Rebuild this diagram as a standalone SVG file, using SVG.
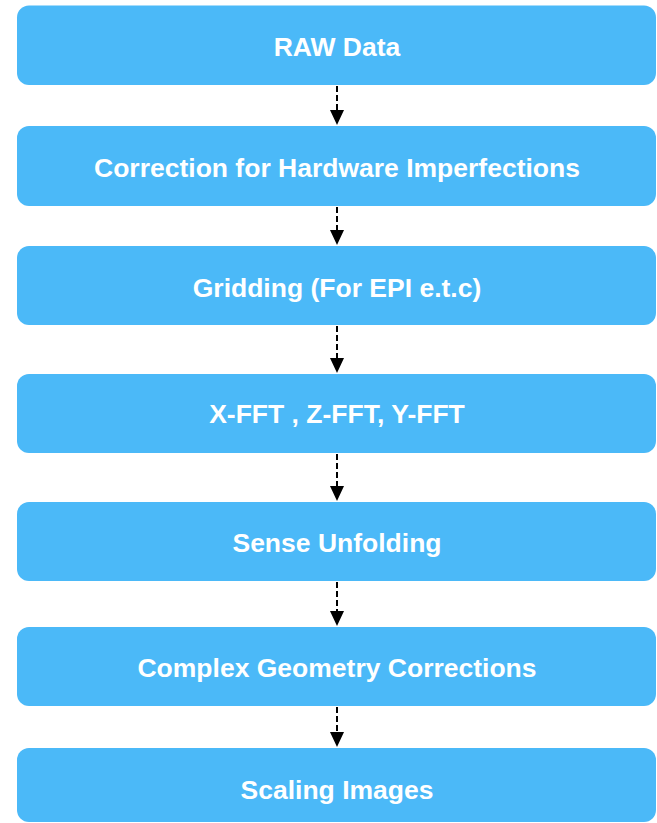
<svg xmlns="http://www.w3.org/2000/svg" width="657" height="823" viewBox="0 0 657 823">
<defs>
<style>
.box{fill:#4BB9F8;}
.lbl{fill:#FFFFFF;font-family:"Liberation Sans",Arial,sans-serif;font-weight:bold;font-size:26.5px;text-anchor:middle;dominant-baseline:central;}
.edge{stroke:#000;stroke-width:2;stroke-dasharray:6,3;fill:none;}
</style>
</defs>
<g id="connectors">
<path class="edge" d="M337,86 V110"/><path d="M330,110 H344 L337,125 Z"/>
<path class="edge" d="M337,207 V230"/><path d="M330,230 H344 L337,245 Z"/>
<path class="edge" d="M337,326 V358"/><path d="M330,358 H344 L337,373 Z"/>
<path class="edge" d="M337,454 V486"/><path d="M330,486 H344 L337,501 Z"/>
<path class="edge" d="M337,582 V611"/><path d="M330,611 H344 L337,626 Z"/>
<path class="edge" d="M337,707 V732"/><path d="M330,732 H344 L337,747 Z"/>
</g>
<g id="n1"><rect class="box" x="17" y="5.5" width="639" height="79.5" rx="12"/><text class="lbl" x="337" y="47">RAW Data</text></g>
<g id="n2"><rect class="box" x="17" y="126" width="639" height="80" rx="12"/><text class="lbl" x="337" y="168">Correction for Hardware Imperfections</text></g>
<g id="n3"><rect class="box" x="17" y="246" width="639" height="79" rx="12"/><text class="lbl" x="337" y="288">Gridding (For EPI e.t.c)</text></g>
<g id="n4"><rect class="box" x="17" y="374" width="639" height="79" rx="12"/><text class="lbl" x="337" y="414">X-FFT , Z-FFT, Y-FFT</text></g>
<g id="n5"><rect class="box" x="17" y="502" width="639" height="79" rx="12"/><text class="lbl" x="337" y="543">Sense Unfolding</text></g>
<g id="n6"><rect class="box" x="17" y="627" width="639" height="79" rx="12"/><text class="lbl" x="337" y="668">Complex Geometry Corrections</text></g>
<g id="n7"><rect class="box" x="17" y="748" width="639" height="74" rx="12"/><text class="lbl" x="337" y="790">Scaling Images</text></g>
</svg>
